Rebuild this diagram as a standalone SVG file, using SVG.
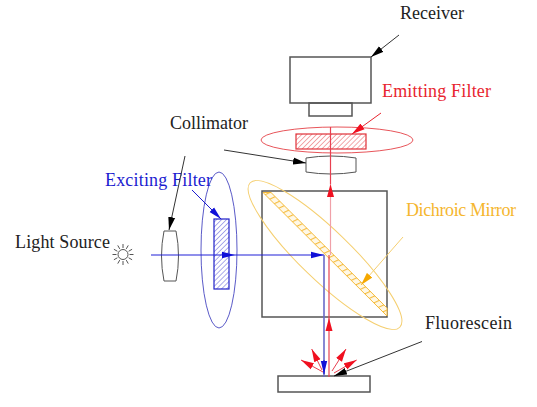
<svg xmlns="http://www.w3.org/2000/svg" width="537" height="407" viewBox="0 0 537 407">
<style>
text{font-family:"Liberation Serif","Times New Roman",serif;font-size:18px;fill:#222}
.box{fill:none;stroke:#555;stroke-width:1.5}
.lens{fill:#fff;stroke:#555;stroke-width:1}
.thin{fill:none;stroke:#333;stroke-width:1}
</style>
<defs>
<pattern id="hr" width="3.500" height="3.500" patternUnits="userSpaceOnUse" patternTransform="rotate(45)"><rect width="3.500" height="3.500" fill="#fff"/><line x1="0" y1="0" x2="0" y2="3.500" stroke="#e8555a" stroke-width="1"/></pattern>
<pattern id="hb" width="3.500" height="3.500" patternUnits="userSpaceOnUse" patternTransform="rotate(45)"><rect width="3.500" height="3.500" fill="#fff"/><line x1="0" y1="0" x2="0" y2="3.500" stroke="#5a5ad8" stroke-width="1"/></pattern>
<pattern id="hy" width="6" height="6" patternUnits="userSpaceOnUse" patternTransform="rotate(-25)"><rect width="6" height="6" fill="#fff8e6"/><line x1="0" y1="0" x2="6" y2="0" stroke="#f5bb3c" stroke-width="2.200"/></pattern>
<marker id="ak" markerWidth="14" markerHeight="8" refX="13" refY="4" orient="auto" markerUnits="userSpaceOnUse"><path d="M0 0.500L13 4L0 7.500z" fill="#000"/></marker>
<marker id="ar" markerWidth="14" markerHeight="8" refX="13" refY="4" orient="auto" markerUnits="userSpaceOnUse"><path d="M0 0.500L13 4L0 7.500z" fill="#f01020"/></marker>
<marker id="ab" markerWidth="14" markerHeight="8" refX="13" refY="4" orient="auto" markerUnits="userSpaceOnUse"><path d="M0 0.800L13 4L0 7.200z" fill="#1010d8"/></marker>
<marker id="ay" markerWidth="14" markerHeight="8" refX="13" refY="4" orient="auto" markerUnits="userSpaceOnUse"><path d="M0 0.500L13 4L0 7.500z" fill="#f5a800"/></marker>
</defs>
<rect width="537" height="407" fill="#fff"/>

<g id="receiver"><rect class="box" x="290" y="57" width="81" height="46"/><rect class="box" x="309" y="103" width="43" height="13"/><text x="400" y="19">Receiver</text></g>
<g id="emitting-filter"><ellipse cx="337" cy="140" rx="76" ry="13" fill="none" stroke="#e8555a" stroke-width="1"/><rect x="296" y="134" width="70" height="15" fill="url(#hr)" stroke="#e03038" stroke-width="1.200"/><text x="382" y="97" style="fill:#e8252f" textLength="109">Emitting Filter</text></g>
<g id="collimator-top"><path class="lens" d="M306 158Q331 154 356 158V172Q331 176 306 172Z"/></g>
<g id="collimator-left"><path class="lens" d="M164 231H176Q181 256 176 281H164Q159 256 164 231Z"/><text x="170" y="129">Collimator</text></g>
<g id="exciting-filter"><ellipse cx="219" cy="250" rx="18" ry="78" fill="none" stroke="#5a5ac8" stroke-width="1"/><rect x="214" y="219" width="15" height="70" fill="url(#hb)" stroke="#2020c8" stroke-width="1.200"/><text x="105" y="186" style="fill:#1c1cd0" textLength="107">Exciting Filter</text></g>
<g id="light-source"><circle cx="123" cy="254.500" r="5" fill="#fff" stroke="#555" stroke-width="1"/><path d="M123 244V248M123 261V265M112.500 254.500H116.500M129.500 254.500H133.500M128.600 257.750L132.100 259.750M126.250 260.100L128.250 263.600M117.400 251.250L113.900 249.250M119.750 248.900L117.750 245.400M128.600 251.250L132.100 249.250M126.250 248.900L128.250 245.400M117.400 257.750L113.900 259.750M119.750 260.100L117.750 263.600" stroke="#555" stroke-width="1" fill="none"/><text x="15" y="248" textLength="95">Light Source</text></g>
<g id="dichroic-mirror"><rect class="box" x="262" y="191" width="125" height="126"/><ellipse cx="325" cy="255" rx="104" ry="25" transform="rotate(44 325 255)" fill="none" stroke="#f5cf70" stroke-width="1"/><path d="M263 192.500H271L387 308V316Z" fill="url(#hy)" stroke="#f5bb3c" stroke-width="1"/><text x="406" y="216" style="fill:#f5b62e" textLength="110">Dichroic Mirror</text></g>
<g id="fluorescein"><rect class="box" x="278" y="376" width="92" height="16" stroke-width="1.200"/><text x="425" y="329" textLength="87">Fluorescein</text></g>

<g id="connectors" fill="none">
<line x1="151" y1="255" x2="235" y2="255" stroke="#2020d8" stroke-width="1.200" marker-end="url(#ab)"/>
<line x1="235" y1="255" x2="324" y2="255" stroke="#2020d8" stroke-width="1.200" marker-end="url(#ab)"/>
<line x1="324" y1="255" x2="324" y2="377" stroke="#6a6ac8" stroke-width="1.600"/>
<line x1="324" y1="360" x2="324" y2="374" stroke="#1010d8" stroke-width="1" marker-end="url(#ab)"/>
<line x1="329" y1="377" x2="329" y2="318" stroke="#e84050" stroke-width="1.200" marker-end="url(#ar)"/>
<line x1="329" y1="318" x2="329" y2="255" stroke="#e84050" stroke-width="1.200"/>
<line x1="330.500" y1="255" x2="330.500" y2="184" stroke="#f0a0a8" stroke-width="1.200" marker-end="url(#ar)"/>
<line x1="330.500" y1="184" x2="330.500" y2="127" stroke="#e84050" stroke-width="1.200"/>
<line x1="323" y1="372" x2="301" y2="360" stroke="#e84050" stroke-width="1" marker-end="url(#ar)"/>
<line x1="322" y1="370" x2="311.700" y2="349" stroke="#e84050" stroke-width="1" marker-end="url(#ar)"/>
<line x1="332" y1="371" x2="346" y2="349" stroke="#e84050" stroke-width="1" marker-end="url(#ar)"/>
<line x1="334" y1="373" x2="356.700" y2="360" stroke="#e84050" stroke-width="1" marker-end="url(#ar)"/>
<line class="thin" x1="399" y1="35" x2="371" y2="57" marker-end="url(#ak)"/>
<line x1="381" y1="113" x2="352" y2="134" stroke="#e8252f" stroke-width="1" marker-end="url(#ar)"/>
<line class="thin" x1="224" y1="150" x2="306" y2="163" marker-end="url(#ak)"/>
<line class="thin" x1="185" y1="156" x2="169" y2="230" marker-end="url(#ak)"/>
<line x1="192" y1="190" x2="221" y2="219" stroke="#1c1cd0" stroke-width="1" marker-end="url(#ab)"/>
<line x1="403" y1="237" x2="361" y2="285" stroke="#f5cf70" stroke-width="1" marker-end="url(#ay)"/>
<line class="thin" x1="422" y1="341.500" x2="334" y2="376" marker-end="url(#ak)"/>
</g>
</svg>
